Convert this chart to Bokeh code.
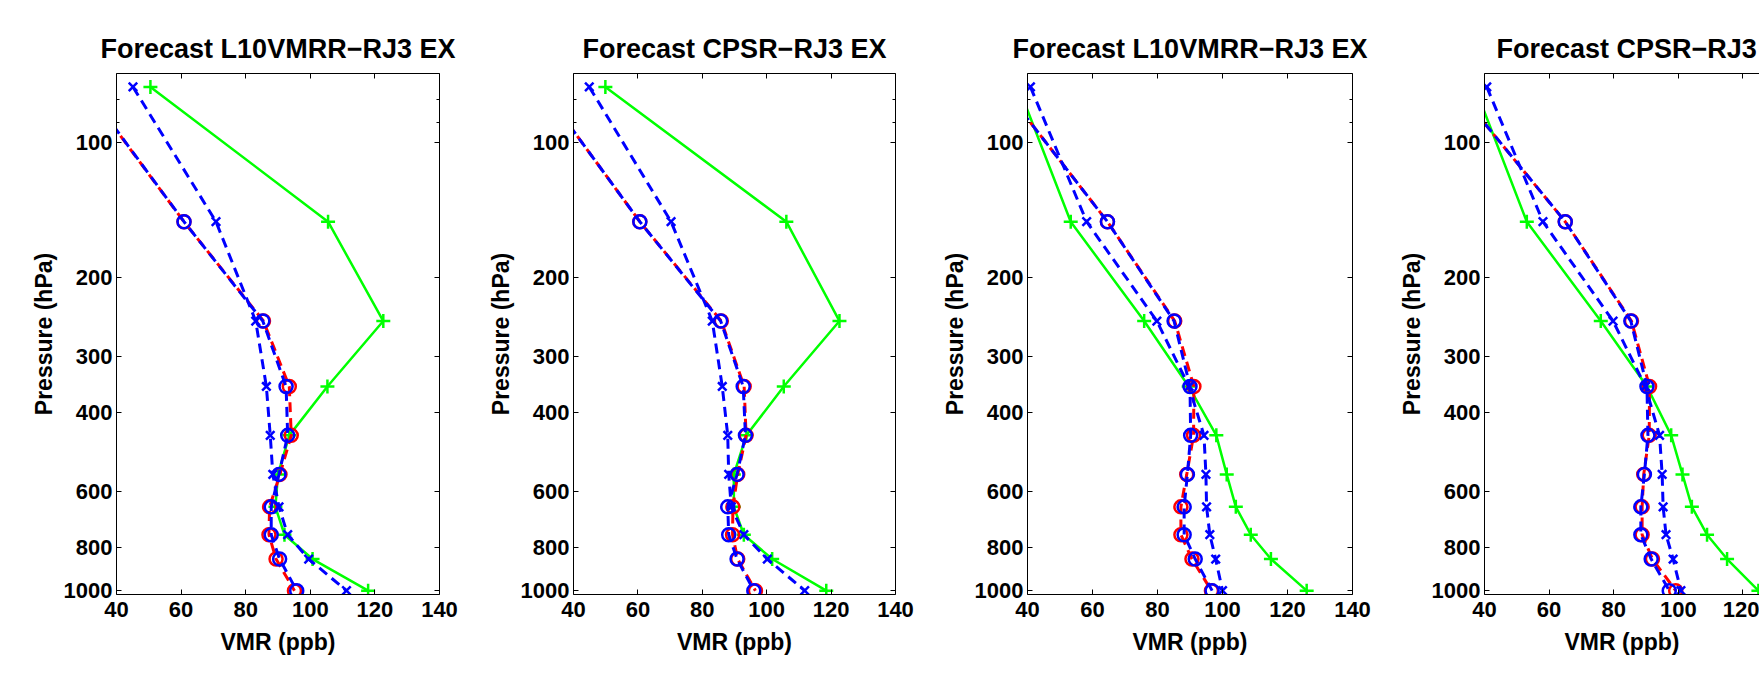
from bokeh.plotting import figure
from bokeh.layouts import row
from bokeh.models import (Range1d, FixedTicker, LinearAxis, LogAxis,
                          PrintfTickFormatter, CustomJSTickFormatter)
from bokeh.embed import file_html
from bokeh.resources import INLINE

# ---------------- data ----------------
pressure = [75, 150, 250, 350, 450, 550, 650, 750, 850, 1000]

titles = ["Forecast L10VMRR\u2212RJ3 EX", "Forecast CPSR\u2212RJ3 EX",
          "Forecast L10VMRR\u2212RJ3 EX", "Forecast CPSR\u2212RJ3 EX"]

p1_green = [50.5, 105.5, 122.6, 105.3, 93.5, 90.0, 89.2, 92.0, 100.7, 117.9]
p1_bx = [45.1, 70.8, 83.1, 86.4, 87.6, 88.4, 90.3, 93.0, 99.5, 111.2]
p1_bo = [30.2, 60.9, 85.3, 92.5, 93.0, 90.3, 87.9, 87.9, 90.5, 95.8]
p1_ro = [30.0, 60.9, 85.5, 93.5, 94.1, 90.6, 87.4, 87.2, 89.4, 95.1]

p2_green = [49.9, 106.1, 122.6, 105.3, 93.7, 89.8, 89.8, 92.9, 101.7, 118.5]
p2_bx = [44.9, 70.3, 83.1, 86.2, 87.9, 88.2, 89.0, 92.9, 100.2, 111.8]
p2_bo = [30.0, 60.6, 85.7, 92.7, 93.4, 90.8, 87.9, 88.2, 90.8, 96.0]
p2_ro = [30.0, 60.6, 85.9, 93.0, 93.6, 91.0, 89.5, 89.4, 91.0, 96.5]

p3_green = [37.2, 53.3, 75.9, 89.6, 98.1, 101.3, 104.1, 108.7, 114.9, 125.9]
p3_bx = [40.9, 58.2, 79.8, 89.7, 94.3, 94.9, 95.1, 96.1, 97.9, 100.0]
p3_bo = [32.4, 64.6, 85.1, 90.0, 90.2, 89.2, 88.2, 88.2, 91.6, 96.8]
p3_ro = [32.4, 64.6, 85.3, 91.2, 91.1, 89.0, 87.2, 87.2, 90.6, 96.6]

p4_green = [37.0, 53.1, 76.0, 90.3, 97.8, 101.3, 104.2, 108.9, 115.1, 124.8]
p4_bx = [40.7, 58.1, 79.8, 89.8, 94.2, 95.0, 95.3, 96.2, 98.4, 100.8]
p4_bo = [30.8, 65.0, 85.3, 90.3, 90.6, 89.5, 88.4, 88.4, 91.6, 97.2]
p4_ro = [30.8, 65.0, 85.5, 91.1, 91.0, 89.3, 88.8, 88.8, 92.0, 99.2]

x_ticks = [40, 60, 80, 100, 120, 140]
y_ticks = [100, 200, 300, 400, 600, 800, 1000]
y_minor = [80, 90]

# ---------------- style ----------------
FONT = "Liberation Sans"
TOP, FH, BOT = 73, 521, 85
BLANK = CustomJSTickFormatter(code="return ''")


def style_axis(ax):
    ax.major_tick_in = 5
    ax.major_tick_out = 0
    ax.minor_tick_in = 3
    ax.minor_tick_out = 0
    ax.axis_line_color = "black"
    ax.axis_line_width = 1
    ax.major_tick_line_color = "black"
    ax.minor_tick_line_color = "black"
    ax.major_label_text_font = FONT
    ax.major_label_text_font_style = "bold"
    ax.major_label_text_font_size = "22px"
    ax.major_label_text_color = "black"
    ax.axis_label_text_font = FONT
    ax.axis_label_text_font_style = "bold"
    ax.axis_label_text_font_size = "23px"
    ax.axis_label_text_color = "black"


def make_panel(title, green, bx, bo, ro, left, frame_w, right, x_end, last=False):
    p = figure(width=left + frame_w + right, height=TOP + FH + BOT,
               x_range=Range1d(40, x_end), y_range=Range1d(1020, 70),
               y_axis_type="log", output_backend="svg", toolbar_location=None,
               min_border_left=left, min_border_right=right,
               min_border_top=TOP, min_border_bottom=BOT)
    p.background_fill_color = "white"
    p.border_fill_color = "white"
    p.outline_line_color = None
    p.xgrid.grid_line_color = None
    p.ygrid.grid_line_color = None

    p.title.text = title
    p.title.text_font = FONT
    p.title.text_font_style = "bold"
    p.title.text_font_size = "27px"
    p.title.text_color = "black"
    p.title.standoff = 20
    if last:
        p.title.align = "left"
        p.title.offset = 12
    else:
        p.title.align = "center"

    xa = p.xaxis[0]
    ya = p.yaxis[0]
    style_axis(xa)
    style_axis(ya)
    xa.ticker = FixedTicker(ticks=x_ticks, minor_ticks=[])
    ya.ticker = FixedTicker(ticks=y_ticks, minor_ticks=y_minor)
    ya.formatter = PrintfTickFormatter(format="%d")
    xa.axis_label = "VMR (ppb)"
    ya.axis_label = "Pressure (hPa)"
    xa.major_label_standoff = 7
    xa.axis_label_standoff = 9
    ya.major_label_standoff = 4
    ya.axis_label_standoff = 4

    top = LinearAxis(ticker=FixedTicker(ticks=x_ticks, minor_ticks=[]), formatter=BLANK)
    style_axis(top)
    top.major_label_standoff = 0
    p.add_layout(top, "above")
    if not last:
        rt = LogAxis(ticker=FixedTicker(ticks=y_ticks, minor_ticks=y_minor), formatter=BLANK)
        style_axis(rt)
        rt.major_label_standoff = 0
        p.add_layout(rt, "right")

    dash = "10 6"
    # green solid with '+'
    p.line(green, pressure, line_color="#00ff00", line_width=2.5)
    p.scatter(green, pressure, marker="cross", size=14, line_color="#00ff00", line_width=2.5)
    # red dashed with 'o'
    p.line(ro, pressure, line_color="#ff0000", line_width=3, line_dash=dash, line_dash_offset=3)
    p.scatter(ro, pressure, marker="circle", size=13, fill_color=None,
              line_color="#ff0000", line_width=2.5)
    # blue dashed with 'o'
    p.line(bo, pressure, line_color="#0000ff", line_width=3, line_dash=dash)
    p.scatter(bo, pressure, marker="circle", size=13, fill_color=None,
              line_color="#0000ff", line_width=2.5)
    # blue dashed with 'x'
    p.line(bx, pressure, line_color="#0000ff", line_width=3, line_dash=dash)
    p.scatter(bx, pressure, marker="x", size=12, line_color="#0000ff", line_width=2.5)
    return p


f1 = make_panel(titles[0], p1_green, p1_bx, p1_bo, p1_ro, 116, 323, 26, 140)
f2 = make_panel(titles[1], p2_green, p2_bx, p2_bo, p2_ro, 108, 322, 24, 140)
f3 = make_panel(titles[2], p3_green, p3_bx, p3_bo, p3_ro, 108, 325, 24, 140)
f4 = make_panel(titles[3], p4_green, p4_bx, p4_bo, p4_ro, 108, 275, 0,
                40 + 275 / 3.23, last=True)

layout = row(f1, f2, f3, f4)
open("out.html", "w").write(file_html(layout, INLINE))
